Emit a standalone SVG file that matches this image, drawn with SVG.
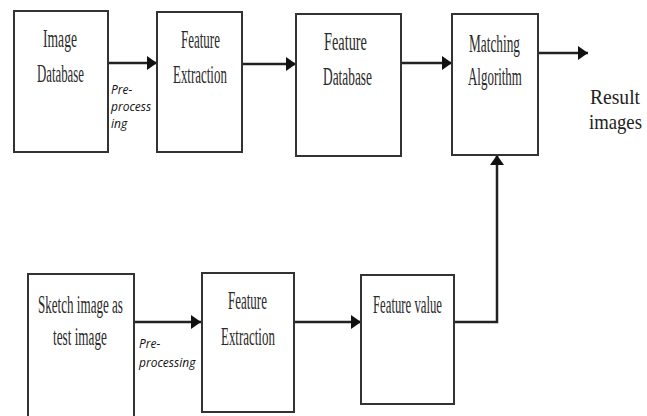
<svg xmlns="http://www.w3.org/2000/svg" width="647" height="416" viewBox="0 0 647 416">
<defs>
<marker id="ah" markerUnits="userSpaceOnUse" markerWidth="12" markerHeight="14" refX="10" refY="7" orient="auto">
<path d="M0,0 L10,7 L0,14 Z" fill="#111"/>
</marker>
<style>
.box{fill:#fff;stroke:#333;stroke-width:2}
.lbl{font-family:"Liberation Serif","Times New Roman",serif;font-size:25px;fill:#2a2a2a}
.res{font-family:"Liberation Serif","Times New Roman",serif;font-size:22px;fill:#222}
.pp{font-family:"Open Sans","Liberation Sans",sans-serif;font-style:italic;font-size:12px;fill:#111}
.con{fill:none;stroke:#222;stroke-width:2.5}
</style>
</defs>
<rect width="647" height="416" fill="#fff"/>
<g id="connectors">
<line class="con" x1="108" y1="63" x2="157" y2="63" marker-end="url(#ah)"/>
<line class="con" x1="242" y1="64" x2="296" y2="64" marker-end="url(#ah)"/>
<line class="con" x1="401" y1="63" x2="452" y2="63" marker-end="url(#ah)"/>
<line class="con" x1="538" y1="53" x2="588" y2="53" marker-end="url(#ah)"/>
<line class="con" x1="134" y1="322" x2="201" y2="322" marker-end="url(#ah)"/>
<line class="con" x1="294" y1="322" x2="361" y2="322" marker-end="url(#ah)"/>
<polyline class="con" points="454,322 497,322 497,155" marker-end="url(#ah)"/>
</g>
<g id="preprocessing-1">
<text class="pp" x="111" y="94">Pre-</text>
<text class="pp" x="111" y="111">process</text>
<text class="pp" x="111" y="128">ing</text>
</g>
<g id="preprocessing-2">
<text class="pp" x="139" y="348">Pre-</text>
<text class="pp" x="139" y="367">processing</text>
</g>
<g id="image-database">
<rect class="box" x="14" y="11" width="94" height="141"/>
<text class="lbl" transform="translate(43,47) scale(0.544,1)">Image</text>
<text class="lbl" transform="translate(37,82) scale(0.513,1)">Database</text>
</g>
<g id="feature-extraction-1">
<rect class="box" x="157" y="12" width="85" height="140"/>
<text class="lbl" transform="translate(181,48) scale(0.52,1)">Feature</text>
<text class="lbl" transform="translate(173,83) scale(0.518,1)">Extraction</text>
</g>
<g id="feature-database">
<rect class="box" x="296" y="14" width="105" height="142"/>
<text class="lbl" transform="translate(324,50) scale(0.573,1)">Feature</text>
<text class="lbl" transform="translate(323,85) scale(0.535,1)">Database</text>
</g>
<g id="matching-algorithm">
<rect class="box" x="452" y="14" width="86" height="141"/>
<text class="lbl" transform="translate(469,52) scale(0.532,1)">Matching</text>
<text class="lbl" transform="translate(468,85) scale(0.518,1)">Algorithm</text>
</g>
<g id="result-images">
<text class="res" transform="translate(590,104) scale(0.89,1)">Result</text>
<text class="res" transform="translate(589,129) scale(0.85,1)">images</text>
</g>
<g id="sketch-image">
<rect class="box" x="28" y="274" width="106" height="150"/>
<text class="lbl" transform="translate(38,313) scale(0.523,1)">Sketch image as</text>
<text class="lbl" transform="translate(53,345) scale(0.529,1)">test image</text>
</g>
<g id="feature-extraction-2">
<rect class="box" x="202" y="273" width="92" height="139"/>
<text class="lbl" transform="translate(228,309) scale(0.52,1)">Feature</text>
<text class="lbl" transform="translate(221,345) scale(0.518,1)">Extraction</text>
</g>
<g id="feature-value">
<rect class="box" x="361" y="275" width="93" height="129"/>
<text class="lbl" transform="translate(373,313) scale(0.51,1)">Feature value</text>
</g>
</svg>
